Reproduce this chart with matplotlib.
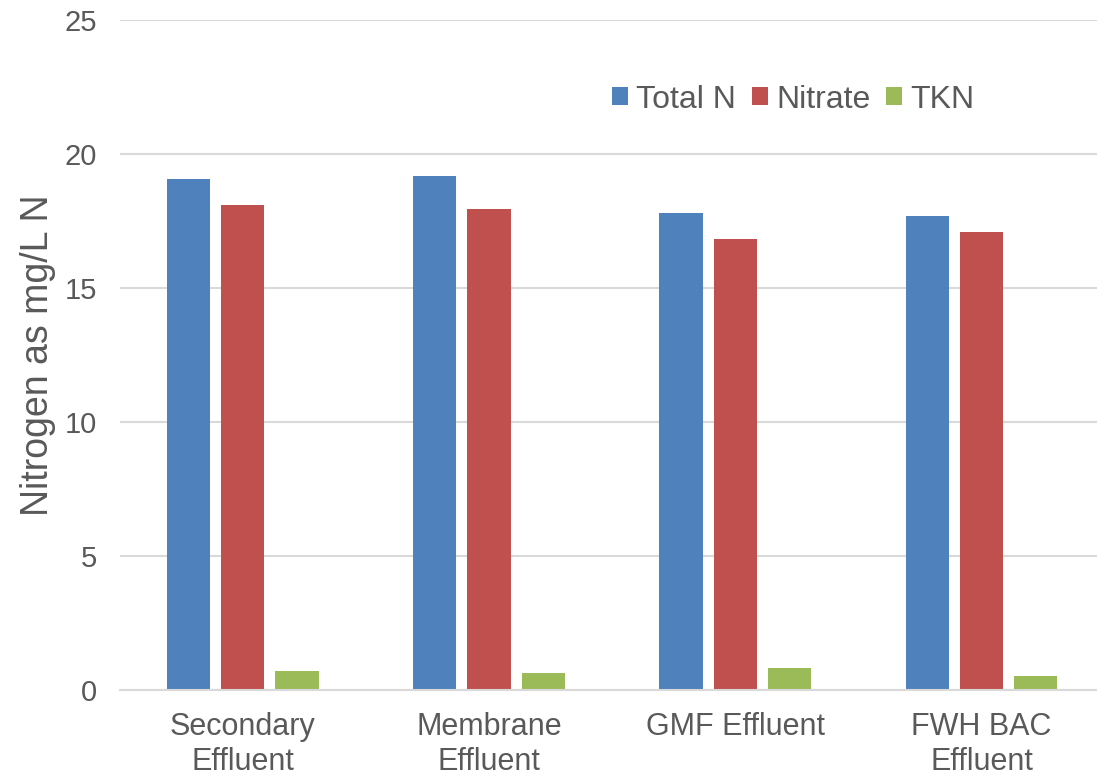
import numpy as np
import matplotlib
matplotlib.use("Agg")
import matplotlib.pyplot as plt

plt.rcParams["font.family"] = ["Liberation Sans", "DejaVu Sans"]

# Nitrogen species per treatment stage (mg/L as N)
categories = ["Secondary\nEffluent", "Membrane\nEffluent", "GMF Effluent", "FWH BAC\nEffluent"]
total_n = [19.06, 19.17, 17.79, 17.69]
nitrate = [18.10, 17.94, 16.82, 17.08]
tkn = [0.71, 0.63, 0.82, 0.53]

series = [("Total N", total_n, "#4F81BD"),
          ("Nitrate", nitrate, "#C0504D"),
          ("TKN", tkn, "#9BBB59")]

TEXT = "#595959"
GRID = "#D9D9D9"


def main():
    fig = plt.figure(figsize=(10.97, 7.79), dpi=100)
    ax = fig.add_axes([0.109, 0.1143, 0.898, 0.86])

    x = np.arange(len(categories))
    width = 0.1755
    step = 0.2204
    for i, (name, vals, color) in enumerate(series):
        ax.bar(x + (i - 1) * step, vals, width, color=color, label=name, zorder=3)

    ax.set_xlim(-0.5, len(categories) - 0.5)
    ax.set_ylim(0, 25)
    ax.set_yticks([0, 5, 10, 15, 20, 25])
    ax.set_xticks(x)
    ax.set_xticklabels(categories, linespacing=1.2)

    ax.yaxis.grid(True, color=GRID, linewidth=1.5, zorder=0)
    for side in ["top", "right", "left"]:
        ax.spines[side].set_visible(False)
    ax.spines["bottom"].set_color(GRID)
    ax.spines["bottom"].set_linewidth(1.5)
    ax.spines["bottom"].set_zorder(4)

    ax.tick_params(axis="y", length=0, pad=16.5, labelsize=21, labelcolor=TEXT)
    ax.tick_params(axis="x", length=0, pad=16, labelsize=22, labelcolor=TEXT)

    ax.set_ylabel("Nitrogen as mg/L N", fontsize=27, color=TEXT, labelpad=6)

    fig.legend(loc="center", bbox_to_anchor=(0.723, 0.872), ncol=3,
               frameon=False, fontsize=23, labelcolor=TEXT,
               handlelength=0.5, handleheight=0.5, handletextpad=0.26,
               columnspacing=0.5, borderpad=0)

    fig.savefig("out.png", dpi=100)


if __name__ == "__main__":
    main()
